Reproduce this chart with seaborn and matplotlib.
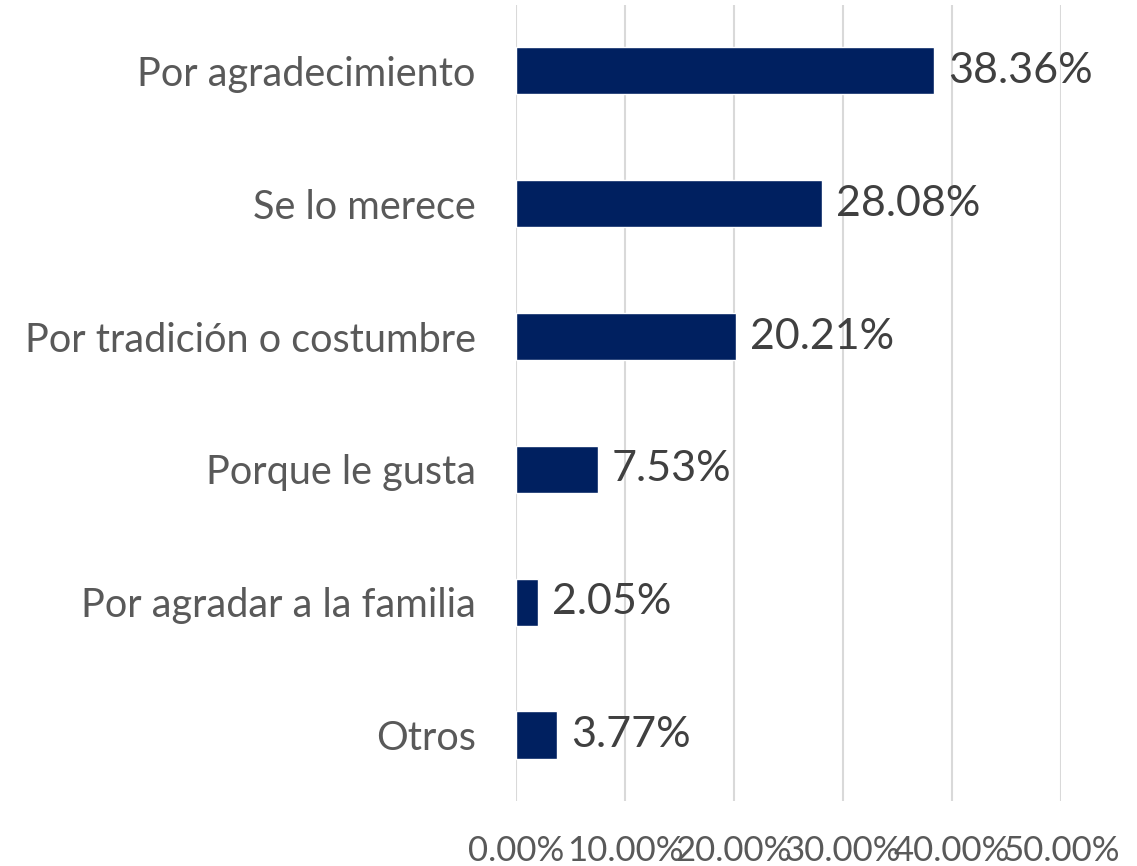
"""Horizontal bar chart: reasons, percentages."""

import matplotlib
matplotlib.use("Agg")
import matplotlib.pyplot as plt
import pandas as pd
import seaborn as sns
from matplotlib.ticker import FuncFormatter

categories = [
    "Por agradecimiento",
    "Se lo merece",
    "Por tradición o costumbre",
    "Porque le gusta",
    "Por agradar a la familia",
    "Otros",
]
values = [38.36, 28.08, 20.21, 7.53, 2.05, 3.77]
x_ticks = [0, 10, 20, 30, 40, 50]

BAR_COLOR = "#002060"
TEXT_GRAY = "#595959"
LABEL_DARK = "#404040"
GRID = "#D9D9D9"

sns.set_theme(style="white")
plt.rcParams["font.family"] = ["Lato", "DejaVu Sans"]

df = pd.DataFrame({"category": categories, "value": values})

fig = plt.figure(figsize=(11.37, 8.66), dpi=100)
ax = fig.add_axes([0.4538, 0.0745, 0.4794, 0.9203])

sns.barplot(data=df, x="value", y="category", orient="h", color=BAR_COLOR,
            width=0.355, saturation=1, ax=ax, zorder=3)

ax.set_xlim(0, 50)
ax.set_ylim(5.5, -0.5)
ax.set_xticks(x_ticks)
ax.xaxis.set_major_formatter(FuncFormatter(lambda v, _: f"{v:.2f}%"))
ax.grid(axis="x", color=GRID, linewidth=1.5, zorder=0)
ax.grid(axis="y", visible=False)
for s in ax.spines.values():
    s.set_visible(False)

ax.set_xlabel("")
ax.set_ylabel("")
ax.tick_params(axis="x", length=0, pad=24, labelsize=25, labelcolor=TEXT_GRAY)
ax.tick_params(axis="y", length=0, pad=29, labelsize=28.5, labelcolor=TEXT_GRAY)

ax.bar_label(ax.containers[0], labels=[f"{v:.2f}%" for v in values],
             padding=10, fontsize=31, color=LABEL_DARK)

fig.savefig("out.png", dpi=100)
